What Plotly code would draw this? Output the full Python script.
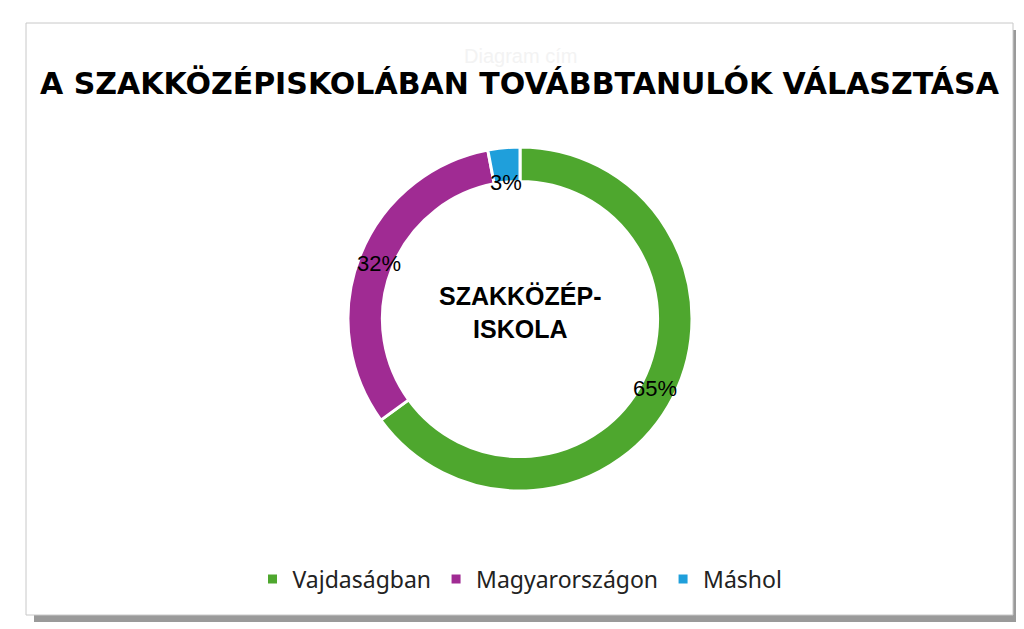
import math
import plotly.graph_objects as go

labels = ["Vajdaságban", "Magyarországon", "Máshol"]
values = [65, 32, 3]
colors = ["#4EA72E", "#A02B93", "#1F9FDB"]

W, H = 1024, 629
cx, cy, R = 512, 311, 172

fig = go.Figure(go.Pie(
    labels=labels, values=values, hole=0.8, sort=False, direction="clockwise",
    rotation=0, marker=dict(colors=colors, line=dict(color="white", width=3)),
    textinfo="none",
    domain=dict(x=[(cx-R)/W, (cx+R)/W], y=[1-(cy+R)/H, 1-(cy-R)/H]),
))

anns = []
total = sum(values)
cum = 0
for v in values:
    mid = (cum + v/2) / total * 2*math.pi
    cum += v
    px = cx + 152*math.sin(mid)
    py = cy - 152*math.cos(mid)
    anns.append(dict(text=f"{round(100*v/total)}%", x=px/W, y=1-py/H, xref="paper", yref="paper",
                     showarrow=False, font=dict(family="Arial", size=22, color="black")))

fig.update_layout(
    width=W, height=H, margin=dict(l=0, r=0, t=0, b=0),
    paper_bgcolor="white", plot_bgcolor="white",
    showlegend=True,
    legend=dict(orientation="h", x=0.5, xanchor="center", y=1-571/H, yanchor="middle",
                font=dict(family="Noto Sans", size=23, color="#222"), tracegroupgap=0),
    shapes=[
        dict(type="rect", xref="paper", yref="paper", x0=26/W, x1=1012/W,
             y0=1-614/H, y1=1-22/H, fillcolor="#9a9a9a", line=dict(width=0), layer="below"),
        dict(type="rect", xref="paper", yref="paper", x0=18/W, x1=1005/W,
             y0=1-607/H, y1=1-15/H, fillcolor="white", line=dict(color="#c8c8c8", width=1), layer="below"),
    ],
    annotations=[
        dict(text="Diagram cím", x=0.5, y=1-48/H, xref="paper", yref="paper", showarrow=False,
             font=dict(family="Arial", size=20, color="#f3f3f3"), yanchor="middle"),
        dict(text="<b>A SZAKKÖZÉPISKOLÁBAN TOVÁBBTANULÓK VÁLASZTÁSA</b>", x=0.5, y=1-75/H,
             xref="paper", yref="paper", showarrow=False,
             font=dict(family="DejaVu Sans", size=30, color="black"), yanchor="middle"),
        dict(text="<b>SZAKKÖZÉP-<br>ISKOLA</b>", x=0.5, y=1-304/H, xref="paper", yref="paper",
             showarrow=False, font=dict(family="Arial", size=25, color="black"), yanchor="middle"),
    ] + anns,
)
fig.write_html("out.html")
